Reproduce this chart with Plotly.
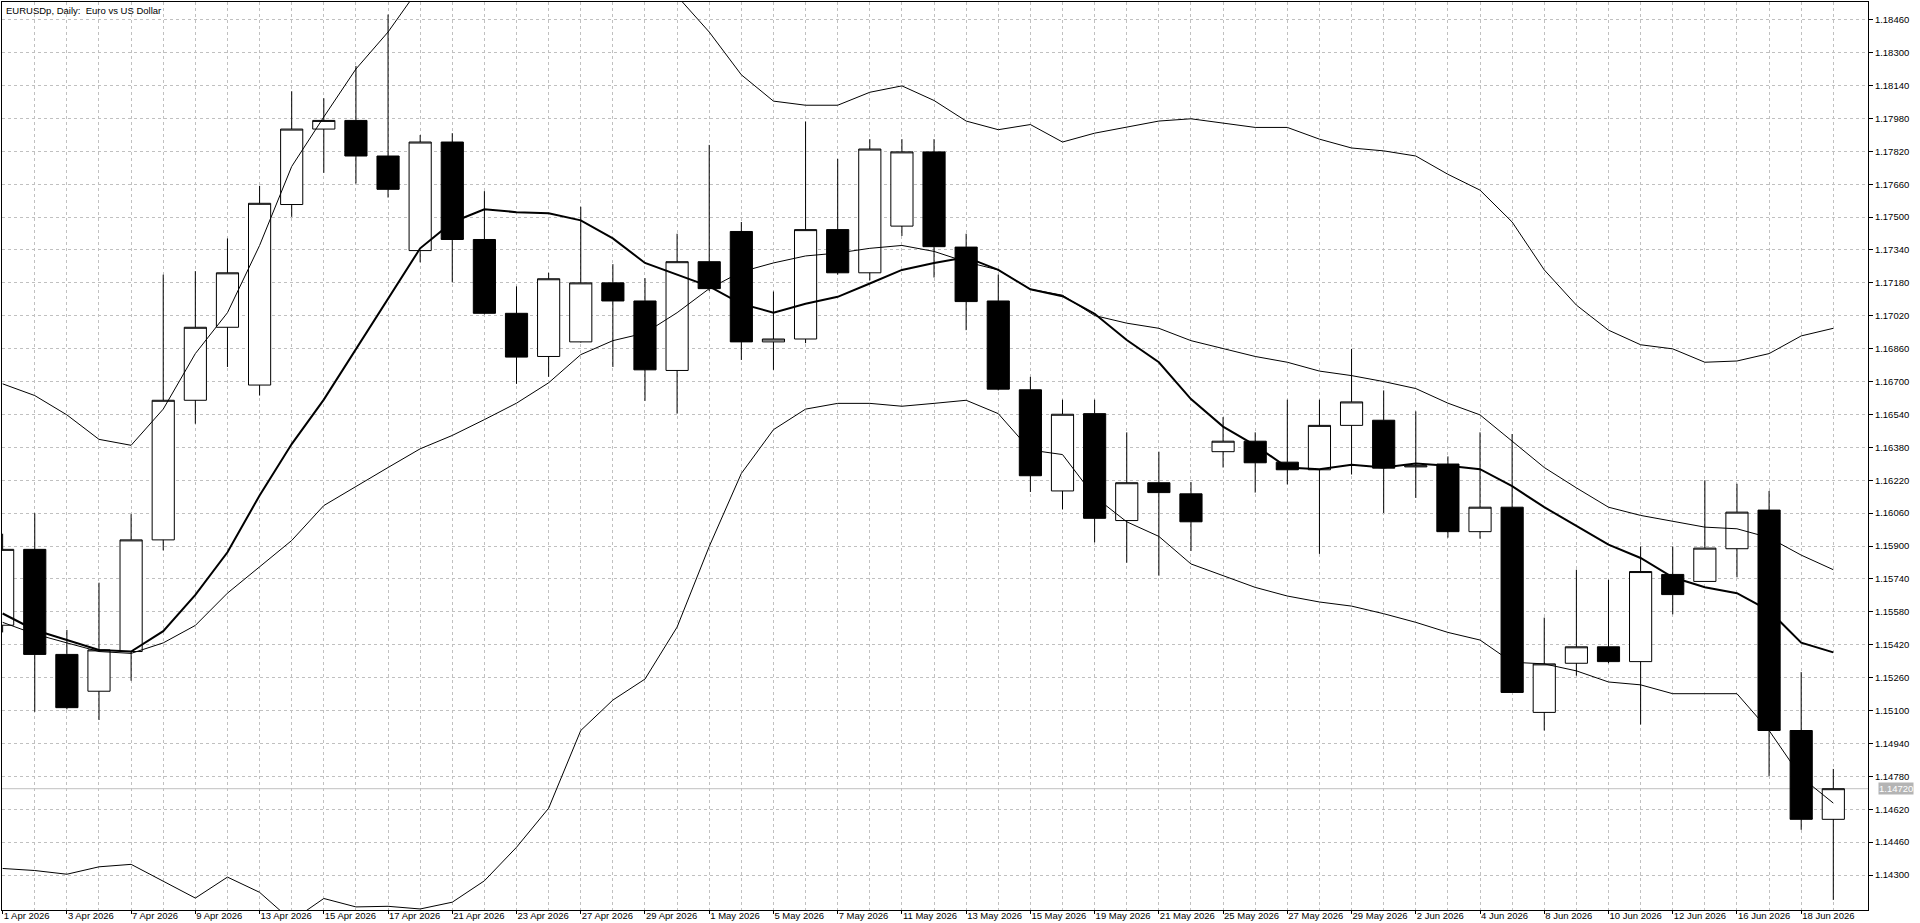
import plotly.graph_objects as go

# EURUSDp daily bars, 1 Apr 2026 - 19 Jun 2026
dates = ['1 Apr 2026', '2 Apr 2026', '3 Apr 2026', '6 Apr 2026', '7 Apr 2026', '8 Apr 2026', '9 Apr 2026', '10 Apr 2026',
         '13 Apr 2026', '14 Apr 2026', '15 Apr 2026', '16 Apr 2026', '17 Apr 2026', '20 Apr 2026', '21 Apr 2026', '22 Apr 2026',
         '23 Apr 2026', '24 Apr 2026', '27 Apr 2026', '28 Apr 2026', '29 Apr 2026', '30 Apr 2026', '1 May 2026', '4 May 2026',
         '5 May 2026', '6 May 2026', '7 May 2026', '8 May 2026', '11 May 2026', '12 May 2026', '13 May 2026', '14 May 2026',
         '15 May 2026', '18 May 2026', '19 May 2026', '20 May 2026', '21 May 2026', '22 May 2026', '25 May 2026', '26 May 2026',
         '27 May 2026', '28 May 2026', '29 May 2026', '1 Jun 2026', '2 Jun 2026', '3 Jun 2026', '4 Jun 2026', '5 Jun 2026',
         '8 Jun 2026', '9 Jun 2026', '10 Jun 2026', '11 Jun 2026', '12 Jun 2026', '15 Jun 2026', '16 Jun 2026', '17 Jun 2026',
         '18 Jun 2026', '19 Jun 2026']

opens = [1.15515, 1.15884, 1.15373, 1.15194, 1.15387, 1.15930, 1.16609, 1.16964, 1.16683, 1.17561,
         1.17928, 1.17970, 1.17797, 1.17337, 1.17865, 1.17391, 1.17032, 1.16822, 1.16893, 1.17180,
         1.17092, 1.16754, 1.17283, 1.17430, 1.16893, 1.16907, 1.17439, 1.17229, 1.17456, 1.17817,
         1.17354, 1.17092, 1.16660, 1.16168, 1.16544, 1.16024, 1.16208, 1.16154, 1.16359, 1.16410,
         1.16308, 1.16271, 1.16487, 1.16512, 1.16285, 1.16299, 1.15970, 1.16089, 1.15091, 1.15330,
         1.15410, 1.15338, 1.15762, 1.15728, 1.15887, 1.16075, 1.15003, 1.14571]
highs = [1.15960, 1.16060, 1.15492, 1.15722, 1.16055, 1.17220, 1.17237, 1.17396, 1.17652, 1.18112,
         1.18078, 1.18235, 1.18485, 1.17899, 1.17908, 1.17626, 1.17163, 1.17229, 1.17550, 1.17271,
         1.17203, 1.17419, 1.17851, 1.17476, 1.17138, 1.17965, 1.17783, 1.17879, 1.17879, 1.17879,
         1.17419, 1.17220, 1.16723, 1.16612, 1.16612, 1.16453, 1.16359, 1.16211, 1.16527, 1.16453,
         1.16612, 1.16612, 1.16859, 1.16657, 1.16555, 1.16336, 1.16453, 1.16445, 1.15552, 1.15785,
         1.15736, 1.15898, 1.15898, 1.16220, 1.16203, 1.16168, 1.15287, 1.14816]
lows = [1.15480, 1.15094, 1.15106, 1.15054, 1.15245, 1.15879, 1.16495, 1.16771, 1.16632, 1.17501,
        1.17715, 1.17663, 1.17595, 1.17280, 1.17183, 1.17027, 1.16689, 1.16723, 1.16890, 1.16771,
        1.16606, 1.16544, 1.17140, 1.16805, 1.16757, 1.16887, 1.17220, 1.17192, 1.17408, 1.17206,
        1.16950, 1.16657, 1.16163, 1.16078, 1.15918, 1.15819, 1.15756, 1.15876, 1.16282, 1.16160,
        1.16200, 1.15862, 1.16248, 1.16061, 1.16134, 1.15941, 1.15936, 1.15188, 1.15003, 1.15270,
        1.15330, 1.15032, 1.15568, 1.15728, 1.15748, 1.14782, 1.14520, 1.14179]
closes = [1.15884, 1.15373, 1.15114, 1.15395, 1.15930, 1.16609, 1.16964, 1.17229, 1.17567, 1.17928,
          1.17970, 1.17797, 1.17635, 1.17865, 1.17391, 1.17032, 1.16819, 1.17200, 1.17180, 1.17092,
          1.16757, 1.17283, 1.17152, 1.16893, 1.16907, 1.17439, 1.17229, 1.17831, 1.17817, 1.17356,
          1.17089, 1.16663, 1.16242, 1.16541, 1.16035, 1.16208, 1.16160, 1.16018, 1.16410, 1.16305,
          1.16271, 1.16487, 1.16601, 1.16279, 1.16290, 1.15970, 1.16089, 1.15188, 1.15327, 1.15410,
          1.15338, 1.15776, 1.15664, 1.15890, 1.16065, 1.15003, 1.14571, 1.14720]

# thick moving average
ma = [1.15572, 1.15492, 1.15443, 1.15395, 1.15387, 1.15486, 1.15663, 1.15870, 1.16146, 1.16396,
      1.16612, 1.16856, 1.17106, 1.17348, 1.17475, 1.17538, 1.17524, 1.17518, 1.17484, 1.17396,
      1.17277, 1.17220, 1.17163, 1.17078, 1.17035, 1.17078, 1.17112, 1.17177, 1.17243, 1.17277,
      1.17305, 1.17243, 1.17149, 1.17115, 1.17030, 1.16902, 1.16794, 1.16615, 1.16481, 1.16390,
      1.16282, 1.16274, 1.16296, 1.16282, 1.16302, 1.16290, 1.16274, 1.16191, 1.16089, 1.15998,
      1.15907, 1.15842, 1.15748, 1.15700, 1.15671, 1.15586, 1.15430, 1.15383]

# bollinger bands (middle, upper, lower)
bb_mid = [1.15529, 1.15472, 1.15429, 1.15387, 1.15378, 1.15429, 1.15514, 1.15671, 1.15799, 1.15927,
          1.16097, 1.16191, 1.16282, 1.16373, 1.16438, 1.16515, 1.16595, 1.16694, 1.16831, 1.16899,
          1.16936, 1.17035, 1.17152, 1.17234, 1.17277, 1.17311, 1.17325, 1.17348, 1.17362, 1.17333,
          1.17282, 1.17243, 1.17149, 1.17120, 1.17021, 1.16984, 1.16959, 1.16899, 1.16859, 1.16822,
          1.16794, 1.16751, 1.16729, 1.16700, 1.16666, 1.16595, 1.16538, 1.16410, 1.16282, 1.16183,
          1.16089, 1.16049, 1.16021, 1.15992, 1.15984, 1.15941, 1.15856, 1.15785]
bb_up = [1.16689, 1.16632, 1.16538, 1.16419, 1.16390, 1.16566, 1.16836, 1.17035, 1.17362, 1.17746,
         1.17987, 1.18220, 1.18400, 1.18620, 1.18680, 1.18730, 1.18770, 1.18780, 1.18770, 1.18740,
         1.18680, 1.18575, 1.18400, 1.18192, 1.18064, 1.18044, 1.18044, 1.18107, 1.18138, 1.18067,
         1.17967, 1.17925, 1.17950, 1.17865, 1.17908, 1.17936, 1.17967, 1.17978, 1.17958, 1.17936,
         1.17936, 1.17879, 1.17836, 1.17822, 1.17797, 1.17708, 1.17631, 1.17476, 1.17243, 1.17072,
         1.16950, 1.16879, 1.16859, 1.16794, 1.16800, 1.16836, 1.16922, 1.16959]
bb_lo = [1.14332, 1.14322, 1.14304, 1.14340, 1.14352, 1.14270, 1.14188, 1.14290, 1.14216, 1.14078,
         1.14186, 1.14145, 1.14148, 1.14135, 1.14168, 1.14272, 1.14435, 1.14625, 1.15003, 1.15151,
         1.15253, 1.15506, 1.15898, 1.16253, 1.16466, 1.16566, 1.16594, 1.16594, 1.16580, 1.16594,
         1.16609, 1.16544, 1.16367, 1.16345, 1.16140, 1.16018, 1.15947, 1.15813, 1.15756, 1.15699,
         1.15657, 1.15628, 1.15608, 1.15571, 1.15529, 1.15480, 1.15443, 1.15335, 1.15327, 1.15293,
         1.15239, 1.15225, 1.15182, 1.15182, 1.15182, 1.15003, 1.14776, 1.14650]

last_price = 1.14720
price_ticks = [1.14300 + 0.0016 * k for k in range(27)]

x = list(range(len(dates)))
grid = '#c0c0c0'
font = dict(family='Liberation Sans, Arial, sans-serif', size=9.5, color='black')

fig = go.Figure()

for band in [bb_up, bb_mid, bb_lo]:
    fig.add_trace(go.Scatter(x=x, y=band, mode='lines', line=dict(color='black', width=1), hoverinfo='skip'))

fig.add_trace(go.Scatter(x=x, y=ma, mode='lines', line=dict(color='black', width=2), hoverinfo='skip'))

fig.add_trace(go.Candlestick(
    x=x, open=opens, high=highs, low=lows, close=closes,
    increasing=dict(line=dict(color='black', width=1), fillcolor='white'),
    decreasing=dict(line=dict(color='black', width=1), fillcolor='black'),
    whiskerwidth=0))

# current price line + label on the price scale
fig.add_shape(type='line', xref='paper', x0=0, x1=1, y0=last_price, y1=last_price,
              line=dict(color=grid, width=1), layer='below')
fig.add_annotation(xref='paper', x=1, y=last_price, text='%.5f' % last_price, showarrow=False,
                   xanchor='left', xshift=10, bgcolor='#b4b4b4', borderpad=0,
                   font=dict(family=font['family'], size=9.5, color='white'))

fig.add_annotation(xref='paper', yref='paper', x=0, y=1, xanchor='left', yanchor='top', xshift=2, yshift=-1,
                   text='EURUSDp, Daily:  Euro vs US Dollar', showarrow=False, font=font)

fig.update_layout(
    width=1920, height=923,
    margin=dict(l=2, r=52, t=2, b=13),
    paper_bgcolor='white', plot_bgcolor='white',
    showlegend=False, font=font,
    boxgap=0.31, boxgroupgap=0,
    xaxis=dict(range=[-0.02, 58.08], rangeslider=dict(visible=False),
               tickmode='array', tickvals=x[::2], ticktext=dates[::2],
               ticks='outside', ticklen=3, tickcolor='black', ticklabelposition='outside right',
               ticklabelstandoff=-3,
               showgrid=True, gridcolor=grid, griddash='3px,3px', gridwidth=1,
               minor=dict(tickmode='array', tickvals=x[1::2], showgrid=True, gridcolor=grid,
                          griddash='3px,3px', ticks=''),
               showline=True, linecolor='black', linewidth=1, mirror=True, zeroline=False,
               tickfont=font),
    yaxis=dict(range=[1.14130, 1.18546], side='right',
               tickmode='array', tickvals=price_ticks, tickformat='.5f',
               ticks='outside', ticklen=4, tickcolor='black', ticklabelstandoff=0,
               showgrid=True, gridcolor=grid, griddash='3px,3px', gridwidth=1,
               showline=True, linecolor='black', linewidth=1, mirror=True, zeroline=False,
               tickfont=font),
)

# the page body has a default 8px margin; drop it so the figure fills the window
fig.write_html("out.html", config={'displayModeBar': False},
               post_script="document.body.style.margin='0';")
